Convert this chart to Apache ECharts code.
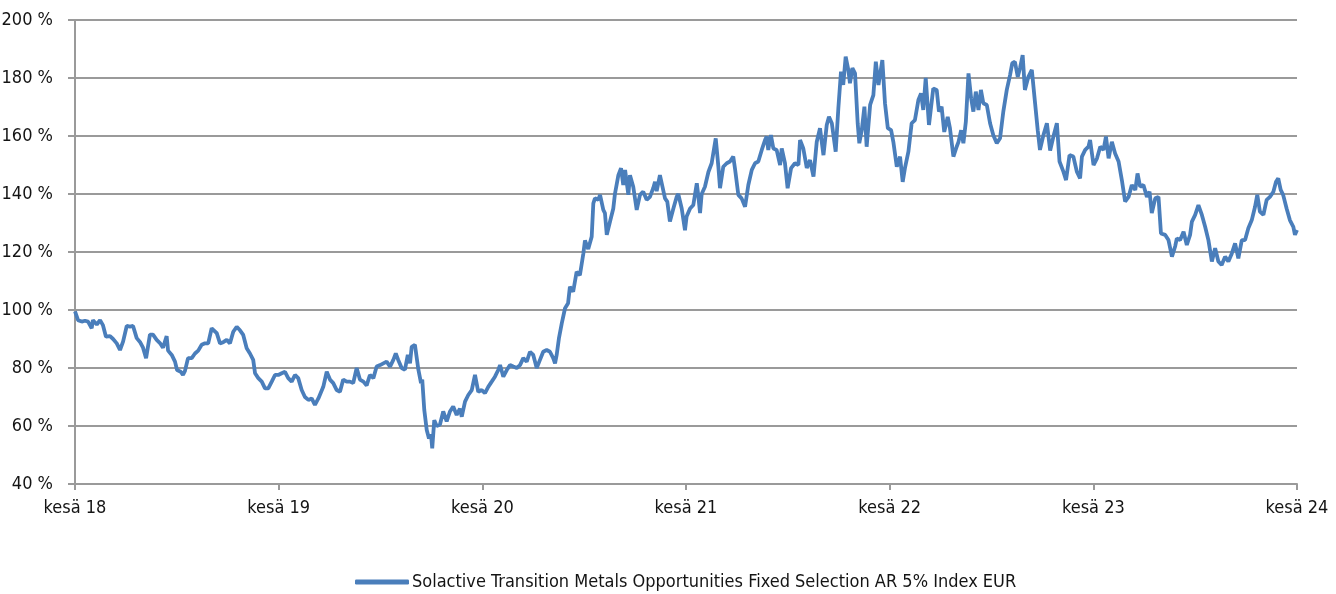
<!DOCTYPE html>
<html>
<head>
<meta charset="utf-8">
<script src="https://cdn.jsdelivr.net/npm/echarts@6/dist/echarts.min.js"></script>
<style>
  html, body { margin: 0; padding: 0; background: #fff; }
  #chart { width: 1336px; height: 594px; }
</style>
</head>
<body>
<div id="chart"></div>
<script>
// x position in years since kesä 18
const yearPos = [
  0, 0.015, 0.033, 0.049, 0.064, 0.082, 0.088, 0.107, 0.123, 0.137,
  0.152, 0.172, 0.187, 0.205, 0.221, 0.236, 0.254, 0.270, 0.285, 0.303,
  0.319, 0.334, 0.349, 0.358, 0.368, 0.383, 0.401, 0.417, 0.432, 0.450,
  0.457, 0.475, 0.491, 0.501, 0.519, 0.530, 0.540, 0.555, 0.573, 0.589,
  0.605, 0.622, 0.638, 0.654, 0.671, 0.679, 0.696, 0.712, 0.728, 0.745,
  0.761, 0.777, 0.794, 0.810, 0.826, 0.843, 0.859, 0.875, 0.884, 0.900,
  0.917, 0.933, 0.949, 0.966, 0.982, 0.998, 1.015, 1.031, 1.047, 1.064,
  1.080, 1.096, 1.113, 1.129, 1.146, 1.162, 1.178, 1.195, 1.203, 1.219,
  1.236, 1.252, 1.268, 1.285, 1.301, 1.317, 1.334, 1.350, 1.366, 1.383,
  1.399, 1.416, 1.432, 1.448, 1.465, 1.481, 1.498, 1.514, 1.530, 1.547,
  1.563, 1.575, 1.587, 1.604, 1.620, 1.634, 1.645, 1.653, 1.669, 1.686,
  1.699, 1.705, 1.715, 1.727, 1.738, 1.748, 1.754, 1.764, 1.776, 1.792,
  1.808, 1.825, 1.841, 1.857, 1.874, 1.890, 1.899, 1.915, 1.931, 1.948,
  1.964, 1.980, 1.997, 2.013, 2.029, 2.046, 2.062, 2.078, 2.087, 2.103,
  2.120, 2.136, 2.152, 2.169, 2.185, 2.201, 2.218, 2.234, 2.250, 2.267,
  2.283, 2.299, 2.316, 2.332, 2.348, 2.357, 2.365, 2.376, 2.390, 2.406,
  2.421, 2.430, 2.446, 2.463, 2.479, 2.496, 2.504, 2.520, 2.537, 2.545,
  2.553, 2.569, 2.578, 2.594, 2.602, 2.611, 2.627, 2.643, 2.651, 2.668,
  2.681, 2.692, 2.701, 2.717, 2.725, 2.741, 2.758, 2.774, 2.790, 2.807,
  2.823, 2.839, 2.848, 2.856, 2.872, 2.881, 2.897, 2.908, 2.921, 2.938,
  2.954, 2.962, 2.979, 2.995, 3.003, 3.020, 3.036, 3.053, 3.060, 3.069,
  3.077, 3.093, 3.110, 3.126, 3.146, 3.159, 3.167, 3.183, 3.200, 3.216,
  3.232, 3.241, 3.257, 3.273, 3.290, 3.306, 3.323, 3.339, 3.355, 3.372,
  3.388, 3.396, 3.404, 3.417, 3.429, 3.445, 3.462, 3.470, 3.486, 3.499,
  3.516, 3.535, 3.552, 3.560, 3.576, 3.593, 3.609, 3.626, 3.642, 3.658,
  3.675, 3.691, 3.702, 3.716, 3.735, 3.748, 3.761, 3.772, 3.784, 3.797,
  3.805, 3.817, 3.830, 3.843, 3.851, 3.863, 3.876, 3.887, 3.904, 3.920,
  3.932, 3.945, 3.964, 3.977, 3.991, 4.007, 4.018, 4.035, 4.051, 4.064,
  4.075, 4.092, 4.108, 4.124, 4.141, 4.154, 4.165, 4.177, 4.193, 4.214,
  4.231, 4.242, 4.255, 4.268, 4.285, 4.296, 4.313, 4.329, 4.338, 4.351,
  4.362, 4.374, 4.387, 4.400, 4.411, 4.423, 4.436, 4.448, 4.460, 4.477,
  4.493, 4.509, 4.526, 4.542, 4.558, 4.575, 4.591, 4.602, 4.615, 4.629,
  4.640, 4.653, 4.664, 4.681, 4.698, 4.714, 4.727, 4.738, 4.755, 4.772,
  4.788, 4.804, 4.821, 4.834, 4.853, 4.866, 4.883, 4.902, 4.919, 4.935,
  4.944, 4.960, 4.976, 4.984, 5.001, 5.018, 5.034, 5.050, 5.062, 5.075,
  5.091, 5.107, 5.124, 5.140, 5.156, 5.173, 5.189, 5.206, 5.217, 5.230,
  5.246, 5.263, 5.276, 5.287, 5.304, 5.320, 5.332, 5.353, 5.369, 5.386,
  5.402, 5.410, 5.426, 5.443, 5.459, 5.475, 5.484, 5.500, 5.516, 5.533,
  5.549, 5.565, 5.582, 5.598, 5.614, 5.630, 5.647, 5.663, 5.680, 5.696,
  5.712, 5.729, 5.745, 5.761, 5.778, 5.794, 5.805, 5.818, 5.835, 5.851,
  5.867, 5.884, 5.897, 5.908, 5.920, 5.932, 5.949, 5.965, 5.982, 5.990,
  6.000
];

// index level, %
const indexPct = [
  99.5, 96.5, 96, 96.3, 96, 93.7, 96.5, 95, 96.5, 94.8,
  90.8, 91, 90, 88.5, 86.2, 89.1, 94.5, 94.3, 94.5, 90.3,
  89, 87, 83.4, 83.4, 91.5, 91.5, 89.7, 88.6, 87, 91,
  86, 84.5, 82.2, 79.3, 78.7, 77.6, 79, 83.4, 83.4, 85,
  86, 88, 88.5, 88.5, 93.7, 94.2, 92, 88.5, 88.9, 89.7,
  88.5, 92.5, 94.2, 93, 91.4, 86.8, 85, 82.8, 78.2, 76.5,
  75.3, 73, 73, 75.3, 77.6, 77.6, 78.2, 78.7, 76.5, 75.3,
  77.6, 76.5, 72.4, 70, 69, 69.5, 67.3, 69.5, 69, 73.5,
  78.7, 76, 74.8, 72.4, 71.8, 76, 75.3, 75.3, 74.8, 80,
  76, 75.3, 74, 77.6, 76.5, 80.5, 81, 81.6, 82.2, 80.5,
  82.8, 85, 82.8, 80, 79.4, 84.5, 81.6, 87.3, 88, 79.4,
  74.8, 76, 65.5, 58.6, 55.7, 57, 52.3, 62, 60, 60.5,
  65, 61.6, 65, 66.7, 63.8, 66, 63.2, 68.4, 70.7, 72.4,
  77.6, 71.8, 72.4, 71.3, 73.5, 75.3, 77, 79.3, 81, 77,
  79.3, 81, 80.5, 80, 81, 83.4, 82.2, 85.6, 84.5, 80,
  82.8, 85.6, 86.2, 85.6, 83.4, 81.6, 84.5, 90.2, 95.4, 100.6,
  102.3, 108, 106.3, 113.2, 112, 119.5, 124, 121, 125.3, 136.8,
  138.5, 138, 139.7, 134.5, 133.4, 125.9, 130.5, 135, 140, 146.5,
  148.9, 143.1, 148.3, 139.7, 146.5, 142.5, 134.5, 139.7, 140.8, 138,
  139, 142, 144.2, 141, 146.5, 147, 138.5, 137.4, 130.5, 135,
  139, 140, 135, 127.5, 132.2, 135, 136.2, 143.7, 139.7, 133.4,
  140, 142.5, 147.6, 150.6, 159.2, 149.4, 142, 149.4, 150.6, 151.2,
  152.9, 148.5, 139.7, 138.5, 135.6, 143.1, 148.3, 150.6, 151.2, 155.2,
  158.6, 159.8, 155.2, 160.3, 155.7, 155.2, 150, 155.7, 150.6, 142,
  148.9, 150.6, 150, 158.6, 155.7, 149, 151.7, 146, 158, 162.7,
  153.4, 163.8, 166.6, 164.4, 154.6, 169.5, 182.2, 177.6, 187.4, 182.8,
  178.2, 183.4, 181.6, 164.4, 157.5, 162, 170.1, 156.3, 170.7, 174.1,
  185.6, 177.6, 186.2, 171.3, 162.7, 162, 158, 149.4, 152.9, 144.2,
  148.9, 154.6, 164.4, 165.5, 172.4, 174.7, 169, 180, 163.8, 176.4,
  175.9, 168.4, 170.1, 161.4, 166.6, 162.7, 152.9, 156.3, 158, 162,
  157.5, 164.9, 181.6, 173, 168.4, 175.3, 169, 175.9, 171.3, 170.7,
  164.4, 160.3, 157.5, 159.2, 168.4, 175.9, 181, 185.1, 185.6, 180.4,
  183.4, 187.9, 175.9, 180.4, 182.8, 171.3, 162, 155.2, 160.3, 164.4,
  155, 159.8, 164.4, 151.2, 147.7, 144.8, 153.4, 152.9, 147.7, 145.4,
  152.9, 155.2, 156.3, 158.6, 150, 152.3, 156.3, 155.2, 159.8, 152.3,
  158, 154, 151.2, 144.8, 137.4, 139, 143.1, 141.4, 147.1, 142.5,
  143.1, 139, 140.8, 133.4, 138.5, 139, 126.4, 125.9, 124.1, 118.4,
  122, 124.7, 124.1, 127, 122.4, 125.9, 130.5, 132.8, 136.2, 132.8,
  128.7, 124.1, 116.7, 121.3, 116.7, 115.5, 118.4, 116.7, 119.5, 123,
  117.8, 124.1, 124.1, 128.2, 131, 135.6, 139.7, 133.9, 132.8, 138,
  139, 140.8, 144.2, 145.4, 141.4, 139.7, 135, 131, 128.7, 125.9,
  127.6
];

const xLabels = ['kesä 18', 'kesä 19', 'kesä 20', 'kesä 21', 'kesä 22', 'kesä 23', 'kesä 24'];
const seriesName = 'Solactive Transition Metals Opportunities Fixed Selection AR 5% Index EUR';

const FONT = '"DejaVu Sans Condensed", "Liberation Sans Narrow", sans-serif';
const GRID_COLOR = '#9a9a9a';
const TEXT_COLOR = '#141414';
const LINE_COLOR = '#4a7ebb';

const chart = echarts.init(document.getElementById('chart'));

const option = {
  animation: false,
  backgroundColor: '#fff',
  grid: {
    left: 75,
    right: 39,
    top: 20,
    bottom: 110,
    containLabel: false,
    outerBoundsMode: 'none'
  },
  legend: {
    left: 350,
    top: 568,
    icon: 'roundRect',
    itemWidth: 54,
    itemHeight: 5,
    itemGap: 10,
    textStyle: {
      fontFamily: FONT,
      fontSize: 18,
      color: TEXT_COLOR,
      padding: [0, 0, 0, -2]
    },
    data: [seriesName]
  },
  xAxis: {
    type: 'value',
    min: 0,
    max: 6,
    interval: 1,
    axisLine: { show: true, lineStyle: { color: GRID_COLOR, width: 2 } },
    axisTick: { show: true, length: 6, lineStyle: { color: GRID_COLOR, width: 2 } },
    splitLine: { show: false },
    axisLabel: {
      margin: 15,
      fontFamily: FONT,
      fontSize: 18,
      color: TEXT_COLOR,
      formatter: (v) => xLabels[Math.round(v)] || ''
    }
  },
  yAxis: {
    type: 'value',
    min: 40,
    max: 200,
    interval: 20,
    axisLine: { show: true, lineStyle: { color: GRID_COLOR, width: 2 } },
    axisTick: { show: true, length: 7, lineStyle: { color: GRID_COLOR, width: 2 } },
    splitLine: { show: true, lineStyle: { color: GRID_COLOR, width: 2 } },
    axisLabel: {
      margin: 22,
      fontFamily: FONT,
      fontSize: 18,
      color: TEXT_COLOR,
      formatter: (v) => v + ' %'
    }
  },
  series: [
    {
      name: seriesName,
      type: 'line',
      symbol: 'none',
      showSymbol: false,
      lineStyle: { color: LINE_COLOR, width: 3.8 },
      itemStyle: { color: LINE_COLOR },
      data: yearPos.map((t, i) => [t, indexPct[i]])
    }
  ]
};

chart.setOption(option);
</script>
</body>
</html>
